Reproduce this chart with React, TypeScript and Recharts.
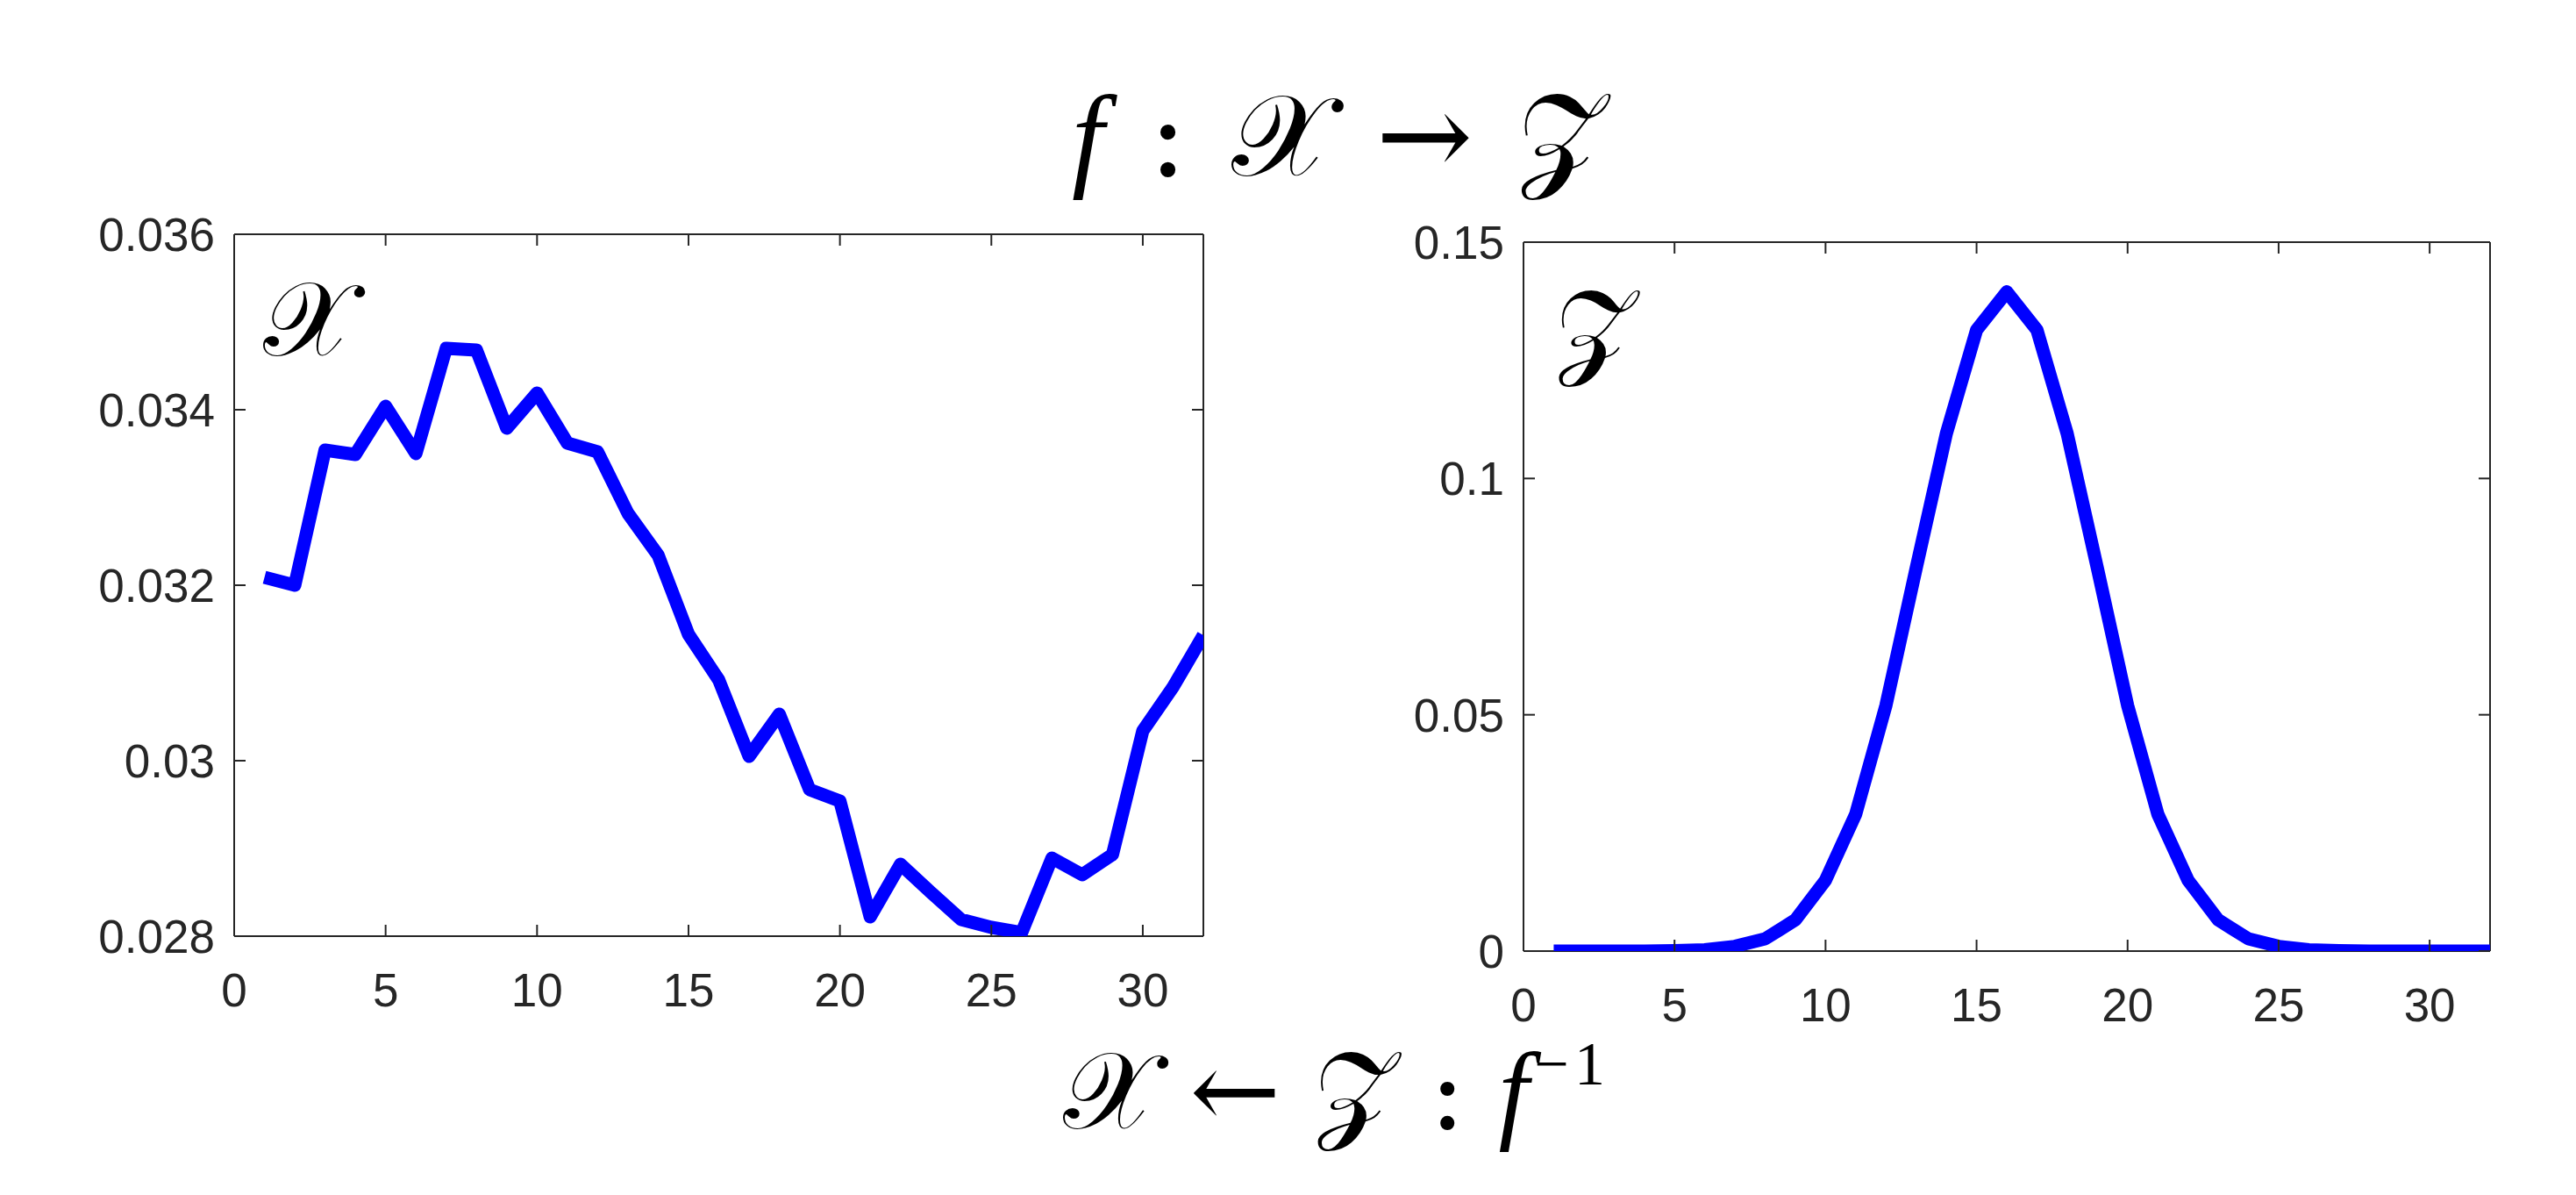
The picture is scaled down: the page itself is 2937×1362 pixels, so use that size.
import React from "react";
import { LineChart, Line, XAxis, YAxis } from "recharts";

const xIndex = [1, 2, 3, 4, 5, 6, 7, 8, 9, 10, 11, 12, 13, 14, 15, 16, 17, 18, 19, 20, 21, 22, 23, 24, 25, 26, 27, 28, 29, 30, 31, 32];
const xSignal = [
  0.03209, 0.032, 0.03354, 0.03349, 0.03404, 0.0335, 0.0347, 0.03468, 0.03379, 0.03419,
  0.03362, 0.03352, 0.03282, 0.03234, 0.03144, 0.03092, 0.03005, 0.03053, 0.02967, 0.02954,
  0.02822, 0.02882, 0.0285, 0.02819, 0.0281, 0.02804, 0.02889, 0.0287, 0.02893, 0.03034,
  0.03084, 0.03143,
];
const zSignal = [
  0, 0, 0, 0, 0.0001, 0.0003, 0.001, 0.0026, 0.0066, 0.015,
  0.029, 0.052, 0.081, 0.1095, 0.1314, 0.1395, 0.1314, 0.1095, 0.081, 0.052,
  0.029, 0.015, 0.0066, 0.0026, 0.001, 0.0003, 0.0001, 0, 0, 0,
  0, 0,
];
const xTicks = [0, 5, 10, 15, 20, 25, 30];
const leftYTicks = [0.028, 0.03, 0.032, 0.034, 0.036];
const leftYLabels = ["0.028", "0.03", "0.032", "0.034", "0.036"];
const rightYTicks = [0, 0.05, 0.1, 0.15];
const rightYLabels = ["0", "0.05", "0.1", "0.15"];

const leftData = xIndex.map((x, i) => ({ x, v: xSignal[i] }));
const rightData = xIndex.map((x, i) => ({ x, v: zSignal[i] }));

const AX = "#262626";
const TICK_FONT = "'Liberation Sans', Arial, Helvetica, sans-serif";
const TFS = 53;
const TL = 13;

const BottomTick = (props: any) => {
  const { x, y, payload } = props;
  return (
    <g>
      <line x1={x} y1={y} x2={x} y2={y - TL} stroke={AX} strokeWidth={2} />
      <text x={x} y={y + 80} textAnchor="middle" fill={AX} fontSize={TFS} fontFamily={TICK_FONT}>
        {String(payload.value)}
      </text>
    </g>
  );
};
const TopTick = (props: any) => {
  const { x, y } = props;
  return <line x1={x} y1={y} x2={x} y2={y + TL} stroke={AX} strokeWidth={2} />;
};
const makeLeftTick = (ticks: number[], labels: string[]) => (props: any) => {
  const { x, y, payload } = props;
  const idx = ticks.findIndex((t) => Math.abs(t - payload.value) < 1e-9);
  const label = idx >= 0 ? labels[idx] : String(payload.value);
  return (
    <g>
      <line x1={x} y1={y} x2={x + TL} y2={y} stroke={AX} strokeWidth={2} />
      <text x={x - 22} y={y + 19} textAnchor="end" fill={AX} fontSize={TFS} fontFamily={TICK_FONT}>
        {label}
      </text>
    </g>
  );
};
const RightTick = (props: any) => {
  const { x, y } = props;
  return <line x1={x} y1={y} x2={x - TL} y2={y} stroke={AX} strokeWidth={2} />;
};

const LeftTickL = makeLeftTick(leftYTicks, leftYLabels);
const LeftTickR = makeLeftTick(rightYTicks, rightYLabels);

const axisLine = { stroke: AX, strokeWidth: 2 };

function Panel(props: {
  data: any[];
  width: number;
  height: number;
  margin: any;
  yWidth: number;
  yDomain: number[];
  yTicks: number[];
  yTick: any;
}) {
  const { data, width, height, margin, yWidth, yDomain, yTicks, yTick } = props;
  return (
    <LineChart width={width} height={height} data={data} margin={margin}>
      <XAxis
        dataKey="x"
        type="number"
        domain={[0, 32]}
        ticks={xTicks}
        allowDataOverflow
        height={100}
        tickLine={false}
        tickSize={0}
        tickMargin={0}
        axisLine={axisLine}
        tick={<BottomTick />}
        interval={0}
      />
      <XAxis
        xAxisId="top"
        orientation="top"
        dataKey="x"
        type="number"
        domain={[0, 32]}
        ticks={xTicks}
        allowDataOverflow
        height={20}
        tickLine={false}
        tickSize={0}
        tickMargin={0}
        axisLine={axisLine}
        tick={<TopTick />}
        interval={0}
      />
      <YAxis
        type="number"
        domain={yDomain}
        ticks={yTicks}
        allowDataOverflow
        width={yWidth}
        tickLine={false}
        tickSize={0}
        tickMargin={0}
        axisLine={axisLine}
        tick={yTick}
        interval={0}
      />
      <YAxis
        yAxisId="right"
        orientation="right"
        type="number"
        domain={yDomain}
        ticks={yTicks}
        allowDataOverflow
        width={20}
        tickLine={false}
        tickSize={0}
        tickMargin={0}
        axisLine={axisLine}
        tick={<RightTick />}
        interval={0}
      />
      <Line
        dataKey="v"
        stroke="#0000ff"
        strokeWidth={15}
        dot={false}
        activeDot={false}
        isAnimationActive={false}
        strokeLinejoin="round"
        strokeLinecap="butt"
        zIndex={600}
      />
    </LineChart>
  );
}

const MATH_FONT = "'DejaVu Serif', 'Liberation Serif', 'Noto Sans', serif";
const SERIF = "'Liberation Serif', 'DejaVu Serif', serif";

export default function App() {
  return (
    <div style={{ position: "absolute", left: 0, top: 0, width: 2937, height: 1362, background: "#fff" }}>
      <div style={{ position: "absolute", left: 0, top: 0 }}>
        <Panel
          data={leftData}
          width={1500}
          height={1250}
          margin={{ top: 247, right: 108, bottom: 83, left: 0 }}
          yWidth={267}
          yDomain={[0.028, 0.036]}
          yTicks={leftYTicks}
          yTick={<LeftTickL />}
        />
      </div>
      <div style={{ position: "absolute", left: 1400, top: 0 }}>
        <Panel
          data={rightData}
          width={1537}
          height={1250}
          margin={{ top: 256, right: 78, bottom: 66, left: 0 }}
          yWidth={337}
          yDomain={[0, 0.15]}
          yTicks={rightYTicks}
          yTick={<LeftTickR />}
        />
      </div>
      <svg
        width={2937}
        height={1362}
        style={{ position: "absolute", left: 0, top: 0, pointerEvents: "none" }}
      >
        <text
          x={1222}
          y={200}
          textAnchor="start"
          fontSize={132}
          fontFamily={MATH_FONT}
          fill="#000"
          textLength={608}
          lengthAdjust="spacing"
        >
          <tspan fontStyle="italic" fontFamily={SERIF}>f</tspan>
          <tspan>{"\u2009:\u2009"}</tspan>
          <tspan>𝒳</tspan>
          <tspan>{"\u2009→\u2009"}</tspan>
          <tspan>𝒵</tspan>
        </text>
        <text
          x={1212}
          y={1286}
          textAnchor="start"
          fontSize={124}
          fontFamily={MATH_FONT}
          fill="#000"
          textLength={618}
          lengthAdjust="spacing"
        >
          <tspan>𝒳</tspan>
          <tspan>{"\u2009←\u2009"}</tspan>
          <tspan>𝒵</tspan>
          <tspan>{"\u2009:\u2009"}</tspan>
          <tspan fontStyle="italic" fontFamily={SERIF}>f</tspan>
          <tspan fontSize={70} dy={-50} fontFamily={SERIF}>−1</tspan>
        </text>
        <text x={300} y={405} fontSize={120} fontFamily={MATH_FONT} fill="#000">𝒳</text>
        <text x={1773} y={415} fontSize={120} fontFamily={MATH_FONT} fill="#000">𝒵</text>
      </svg>
    </div>
  );
}
